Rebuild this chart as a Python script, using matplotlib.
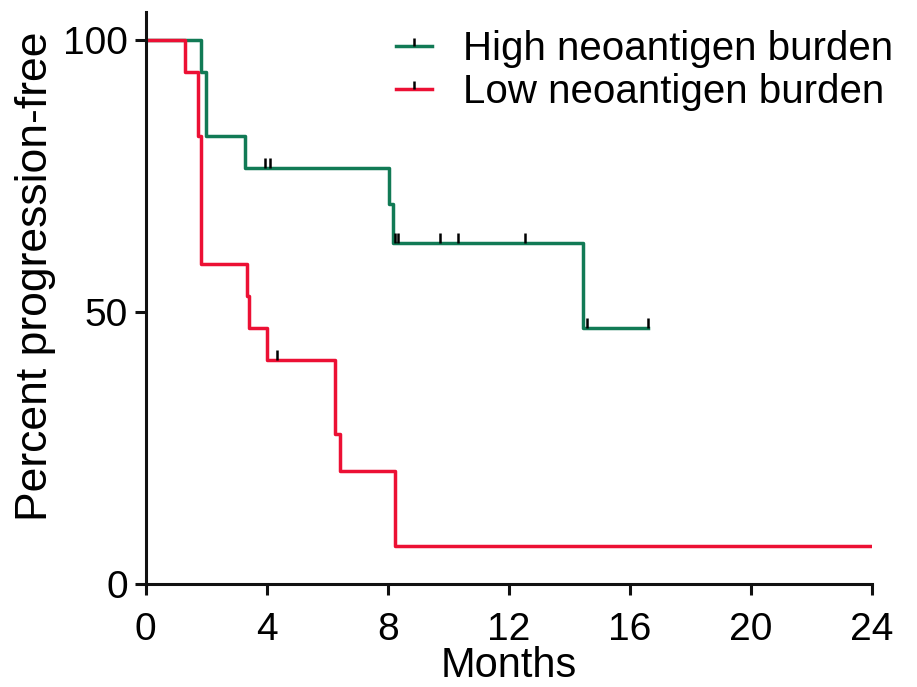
import matplotlib
matplotlib.use("Agg")
import matplotlib.pyplot as plt
from matplotlib.lines import Line2D

plt.rcParams['font.family'] = ['Liberation Sans', 'DejaVu Sans']

# Kaplan-Meier steps (months, percent)
high_t = [0, 1.84, 2.0, 3.27, 8.03, 8.18, 14.46, 16.6]
high_s = [100, 94.1, 82.4, 76.5, 69.9, 62.7, 47.0, 47.0]
high_cens_t = [3.93, 4.1, 8.23, 8.34, 9.72, 10.33, 12.53, 14.57, 16.6]
high_cens_s = [76.5, 76.5, 62.7, 62.7, 62.7, 62.7, 62.7, 47.0, 47.0]

low_t = [0, 1.31, 1.73, 1.81, 3.33, 3.42, 4.02, 6.24, 6.41, 8.23, 24]
low_s = [100, 94.1, 82.4, 58.9, 52.9, 47.1, 41.2, 27.6, 20.7, 6.9, 6.9]
low_cens_t = [4.35]
low_cens_s = [41.2]

labels = ["High neoantigen burden", "Low neoantigen burden"]
green = "#117a55"
red = "#ec1034"

fig = plt.figure(figsize=(9.17, 6.87), dpi=100)
ax = fig.add_axes([0.159, 0.150, 0.792, 0.8325])

ax.step(high_t, high_s, where='post', color=green, lw=2.5)
ax.step(low_t, low_s, where='post', color=red, lw=2.5)
ax.plot(high_cens_t, high_cens_s, ls='none', marker=2, color='black', ms=7, mew=1.8)
ax.plot(low_cens_t, low_cens_s, ls='none', marker=2, color='black', ms=7, mew=1.8)

ax.set_xlim(0, 24)
ax.set_ylim(0, 105.2)
ax.set_xticks([0, 4, 8, 12, 16, 20, 24])
ax.set_yticks([0, 50, 100])
ax.spines['top'].set_visible(False)
ax.spines['right'].set_visible(False)
for s in ['left', 'bottom']:
    ax.spines[s].set_linewidth(2.2)
    ax.spines[s].set_color('#111111')
ax.tick_params(length=8, width=2.2, color='#111111', labelsize=28, pad=5)
ax.tick_params(axis='x', pad=12)

ax.set_xlabel("Months", fontsize=30, labelpad=-1)
ax.set_ylabel("Percent progression-free", fontsize=32)
ax.yaxis.set_label_coords(-0.123, 0.538)

handles = [
    Line2D([], [], color=green, lw=2.5, marker=2, mec='black', ms=6, mew=1.8),
    Line2D([], [], color=red, lw=2.5, marker=2, mec='black', ms=6, mew=1.8),
]
ax.legend(handles, labels, loc='upper left', bbox_to_anchor=(0.41, 0.985),
          bbox_transform=fig.transFigure, frameon=False, fontsize=29,
          handlelength=0.9, handletextpad=0.75, labelspacing=0.12, borderpad=0)

fig.savefig("out.png", dpi=100)
